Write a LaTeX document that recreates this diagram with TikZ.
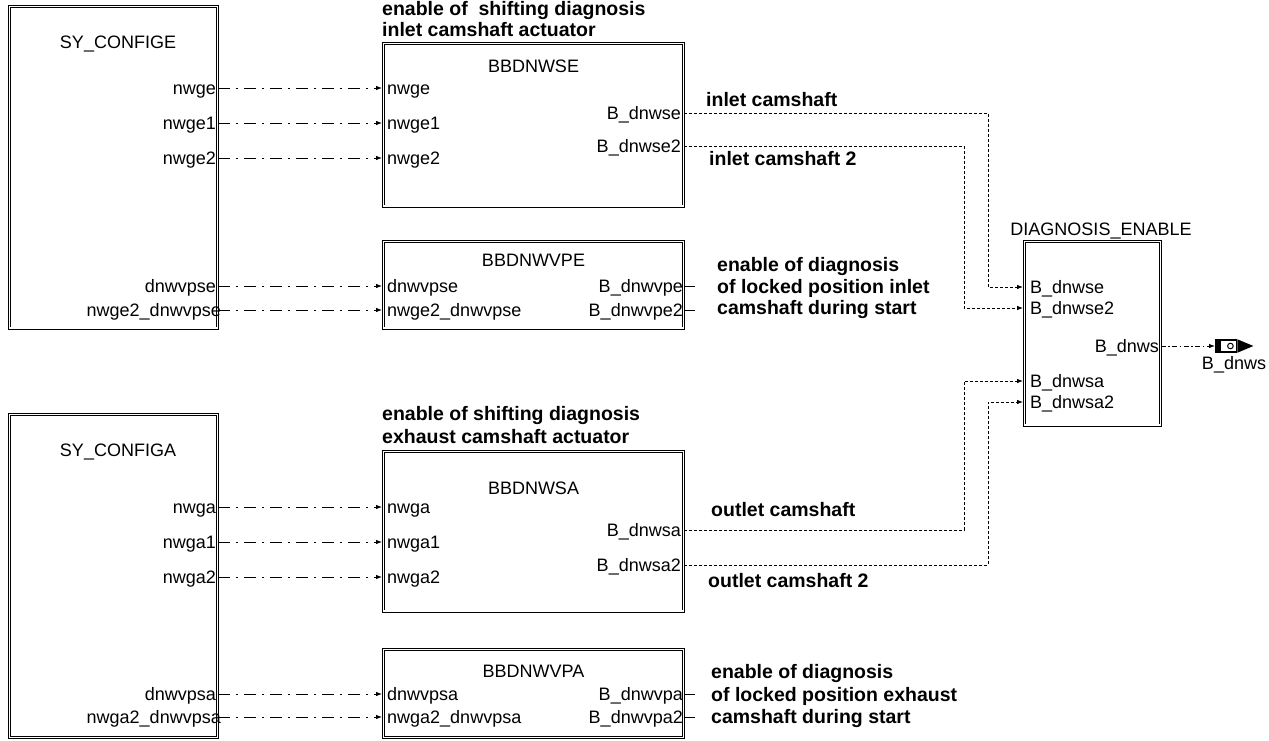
\documentclass[tikz,border=0pt]{standalone}
\usepackage{fontspec}
\setmainfont{Liberation Sans}
\usetikzlibrary{arrows.meta,fit,calc}
\begin{document}
\begin{tikzpicture}[x=1pt,y=-1pt,
  blk/.style={draw=black, double=white, double distance=1.4pt, line width=0.8pt, inner sep=0pt},
  lbl/.style={font=\fontsize{18}{20}\selectfont, inner sep=0pt, text height=13pt, text depth=0pt},
  bl/.style={font=\fontsize{19.5}{22}\selectfont\bfseries, inner sep=0pt, text height=13pt, text depth=0pt, anchor=west},
  sig/.style={line width=0.9pt, dash pattern=on 12pt off 6pt on 2pt off 6pt, -{Latex[length=6pt,width=4.5pt]}, shorten >=1pt},
  dsh/.style={line width=0.9pt, dash pattern=on 3pt off 2pt, -{Latex[length=6pt,width=4.5pt]}, shorten >=1pt},
  sig2/.style={line width=0.9pt, dash pattern=on 5pt off 2.5pt on 1.5pt off 2.5pt, -{Latex[length=6pt,width=4.5pt]}},
  stub/.style={line width=0.9pt}
]
\useasboundingbox (0,0) rectangle (1269,740);

% ---------- boxes ----------
\node[blk, fit={(9.5,6.5) (217.5,328)}] (cfgE) {};
\node[blk, fit={(383.5,43.5) (683.5,206)}] (bbE) {};
\node[blk, fit={(383.5,241.5) (683.5,328)}] (bbVE) {};
\node[blk, fit={(1024.5,241.5) (1160.5,425)}] (diag) {};
\node[blk, fit={(9.5,414.5) (217.5,737.5)}] (cfgA) {};
\node[blk, fit={(383.5,451.5) (683.5,611)}] (bbA) {};
\node[blk, fit={(383.5,649.5) (683.5,737.5)}] (bbVA) {};

% ---------- box titles ----------
\node[lbl] (tCfgE) at (118,42) {SY\_CONFIGE};
\node[lbl] (tbbE) at (533.5,66) {BBDNWSE};
\node[lbl] (tbbVE) at (533.5,260) {BBDNWVPE};
\node[lbl] (tdiag) at (1101,229) {DIAGNOSIS\_ENABLE};
\node[lbl] (tCfgA) at (118,450) {SY\_CONFIGA};
\node[lbl] (tbbA) at (533.5,488) {BBDNWSA};
\node[lbl] (tbbVA) at (533.5,671) {BBDNWVPA};

% ---------- SY_CONFIGE ports ----------
\node[lbl,anchor=east] (pE1) at (216,88) {nwge};
\node[lbl,anchor=east] (pE2) at (216,123) {nwge1};
\node[lbl,anchor=east] (pE3) at (216,158) {nwge2};
\node[lbl,anchor=east] (pE4) at (216,286) {dnwvpse};
\node[lbl,anchor=east] (pE5) at (221,310) {nwge2\_dnwvpse};

% ---------- BBDNWSE ports ----------
\node[lbl,anchor=west] (iE1) at (387,88) {nwge};
\node[lbl,anchor=west] (iE2) at (387,123) {nwge1};
\node[lbl,anchor=west] (iE3) at (387,158) {nwge2};
\node[lbl,anchor=east] (oE1) at (681,113) {B\_dnwse};
\node[lbl,anchor=east] (oE2) at (681,146) {B\_dnwse2};

% ---------- BBDNWVPE ports ----------
\node[lbl,anchor=west] (iVE1) at (387,286) {dnwvpse};
\node[lbl,anchor=west] (iVE2) at (387,310) {nwge2\_dnwvpse};
\node[lbl,anchor=east] (oVE1) at (683,286) {B\_dnwvpe};
\node[lbl,anchor=east] (oVE2) at (683,310) {B\_dnwvpe2};

% ---------- DIAGNOSIS_ENABLE ports ----------
\node[lbl,anchor=west] (dI1) at (1030,287) {B\_dnwse};
\node[lbl,anchor=west] (dI2) at (1030,308) {B\_dnwse2};
\node[lbl,anchor=west] (dI3) at (1030,381) {B\_dnwsa};
\node[lbl,anchor=west] (dI4) at (1030,402) {B\_dnwsa2};
\node[lbl,anchor=east] (dO) at (1159,346) {B\_dnws};

% ---------- SY_CONFIGA ports ----------
\node[lbl,anchor=east] (pA1) at (216,507) {nwga};
\node[lbl,anchor=east] (pA2) at (216,542) {nwga1};
\node[lbl,anchor=east] (pA3) at (216,577) {nwga2};
\node[lbl,anchor=east] (pA4) at (216,694) {dnwvpsa};
\node[lbl,anchor=east] (pA5) at (221,717) {nwga2\_dnwvpsa};

% ---------- BBDNWSA ports ----------
\node[lbl,anchor=west] (iA1) at (387,507) {nwga};
\node[lbl,anchor=west] (iA2) at (387,542) {nwga1};
\node[lbl,anchor=west] (iA3) at (387,577) {nwga2};
\node[lbl,anchor=east] (oA1) at (681,530) {B\_dnwsa};
\node[lbl,anchor=east] (oA2) at (681,565) {B\_dnwsa2};

% ---------- BBDNWVPA ports ----------
\node[lbl,anchor=west] (iVA1) at (387,694) {dnwvpsa};
\node[lbl,anchor=west] (iVA2) at (387,717) {nwga2\_dnwvpsa};
\node[lbl,anchor=east] (oVA1) at (683,694) {B\_dnwvpa};
\node[lbl,anchor=east] (oVA2) at (683,717) {B\_dnwvpa2};

% ---------- bold annotations ----------
\node[bl] (hE1) at (382,9) {enable of\ \ shifting diagnosis};
\node[bl] (hE2) at (382,30) {inlet camshaft actuator};
\node[bl] (nE1) at (706,100) {inlet camshaft};
\node[bl] (nE2) at (709,159) {inlet camshaft 2};
\node[bl] (vE1) at (717,265) {enable of diagnosis};
\node[bl] (vE2) at (717,287) {of locked position inlet};
\node[bl] (vE3) at (717,308) {camshaft during start};
\node[bl] (hA1) at (382,414) {enable of shifting diagnosis};
\node[bl] (hA2) at (382,437) {exhaust camshaft actuator};
\node[bl] (nA1) at (711,510) {outlet camshaft};
\node[bl] (nA2) at (708,581) {outlet camshaft 2};
\node[bl] (vA1) at (711,672) {enable of diagnosis};
\node[bl] (vA2) at (711,695) {of locked position exhaust};
\node[bl] (vA3) at (711,717) {camshaft during start};

% ---------- connectors: configuration -> blocks ----------
\foreach \p/\q in {pE1/bbE, pE2/bbE, pE3/bbE, pE4/bbVE, pE5/bbVE,
                   pA1/bbA, pA2/bbA, pA3/bbA, pA4/bbVA, pA5/bbVA}{
  \draw[sig] (cfgE.east |- \p) -- (\q.west |- \p);
}

% ---------- connectors: blocks -> DIAGNOSIS_ENABLE ----------
\coordinate (xR) at (988,0);
\coordinate (xL) at (964,0);
\draw[dsh] (bbE.east |- oE1) -| (xR |- dI1) -- (diag.west |- dI1);
\draw[dsh] (bbE.east |- oE2) -| (xL |- dI2) -- (diag.west |- dI2);
\draw[dsh] (bbA.east |- oA1) -| (xL |- dI3) -- (diag.west |- dI3);
\draw[dsh] (bbA.east |- oA2) -| (xR |- dI4) -- (diag.west |- dI4);

% ---------- unconnected output stubs ----------
\draw[stub] (bbVE.east |- oVE1) -- ++(11,0);
\draw[stub] (bbVE.east |- oVE2) -- ++(11,0);
\draw[stub] (bbVA.east |- oVA1) -- ++(11,0);
\draw[stub] (bbVA.east |- oVA2) -- ++(11,0);

% ---------- output connector B_dnws ----------
\node[draw, line width=1.4pt, fill=white, minimum width=21pt, minimum height=12pt,
      inner sep=0pt, anchor=west] (outB) at (1215,346) {};
\fill ($(outB.north west)$) rectangle ($(outB.south west)+(6,0)$);
\draw[line width=1pt] ($(outB.east)+(-7,0)$) circle (2.8pt);
\fill (outB.north east) -- ($(outB.east)+(16,0)$) -- (outB.south east) -- cycle;
\draw[sig2] (diag.east |- dO) -- (outB.west);
\node[lbl] (outBl) at (1234,363) {B\_dnws};
\end{tikzpicture}
\end{document}
